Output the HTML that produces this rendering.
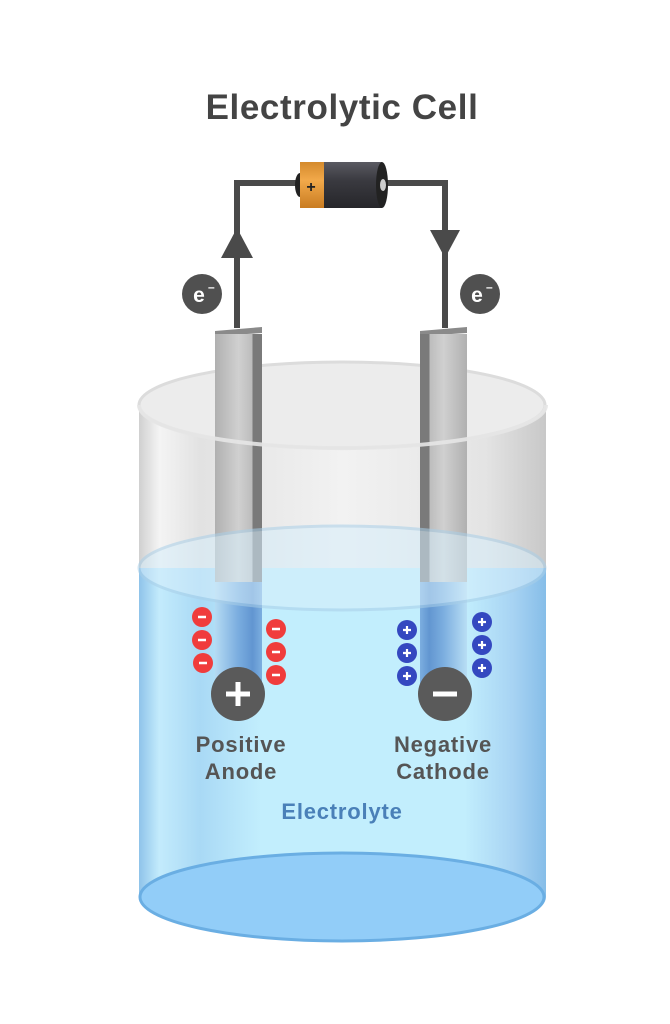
<!DOCTYPE html>
<html><head><meta charset="utf-8"><style>
html,body{margin:0;padding:0;background:#fff;}
svg{display:block;}
text{font-family:"Liberation Sans",sans-serif;font-weight:bold;}
</style></head><body>
<svg width="670" height="1024" viewBox="0 0 670 1024" xmlns="http://www.w3.org/2000/svg">
<defs>
<linearGradient id="glass" x1="0" x2="1" y1="0" y2="0">
<stop offset="0" stop-color="#d0d0d0"/><stop offset="0.05" stop-color="#f4f4f4"/><stop offset="0.15" stop-color="#e2e2e2"/><stop offset="0.5" stop-color="#f2f2f2"/><stop offset="0.85" stop-color="#e4e4e4"/><stop offset="1" stop-color="#c8c8c8"/>
</linearGradient>
<linearGradient id="water" x1="0" x2="1" y1="0" y2="0">
<stop offset="0" stop-color="#8fc3ea"/><stop offset="0.05" stop-color="#c3ebfc"/><stop offset="0.15" stop-color="#a9d9f5"/><stop offset="0.3" stop-color="#c2eefd"/><stop offset="0.8" stop-color="#c2eefd"/><stop offset="0.92" stop-color="#a7d3f3"/><stop offset="1" stop-color="#86bde8"/>
</linearGradient>
<linearGradient id="bat" x1="0" x2="0" y1="0" y2="1">
<stop offset="0" stop-color="#5a5a62"/><stop offset="0.4" stop-color="#3a3a40"/><stop offset="1" stop-color="#26262a"/>
</linearGradient>
<linearGradient id="batc" x1="0" x2="0" y1="0" y2="1">
<stop offset="0" stop-color="#d48a2c"/><stop offset="0.4" stop-color="#f2a94a"/><stop offset="1" stop-color="#c97c22"/>
</linearGradient>
<linearGradient id="elec" x1="0" x2="1" y1="0" y2="0">
<stop offset="0" stop-color="#b0b0b0"/><stop offset="0.5" stop-color="#d0d0d0"/><stop offset="0.8" stop-color="#bcbcbc"/><stop offset="0.8" stop-color="#7a7a7a"/><stop offset="1" stop-color="#7a7a7a"/>
</linearGradient>
<linearGradient id="elecw" x1="0" x2="1" y1="0" y2="0">
<stop offset="0" stop-color="#b6daf2"/><stop offset="0.5" stop-color="#6a9ed8"/><stop offset="0.8" stop-color="#4a80c6"/><stop offset="1" stop-color="#6a9ed8"/>
</linearGradient>
</defs>

<text x="342" y="119" font-size="35" fill="#444" text-anchor="middle" letter-spacing="0.6">Electrolytic Cell</text>

<path d="M139,405 L139,568 A203,44 0 0 0 546,568 L546,405 Z" fill="url(#glass)"/>
<ellipse cx="342" cy="405" rx="203" ry="43" fill="#ececec" stroke="#dcdcdc" stroke-width="3"/>
<path d="M139,568 L139,897 A203,45 0 0 0 546,897 L546,568 Z" fill="url(#water)"/>
<ellipse cx="342" cy="897" rx="202" ry="44" fill="#92cdf8" stroke="#6aaee3" stroke-width="3"/>

<path d="M237,328 L237,183 L300,183 M385,183 L445,183 L445,328" fill="none" stroke="#4a4a4a" stroke-width="6"/>
<polygon points="237,228 221,258 253,258" fill="#4a4a4a"/>
<polygon points="430,230 460,230 445,258" fill="#4a4a4a"/>

<ellipse cx="300" cy="185" rx="5" ry="12" fill="#222"/>
<rect x="300" y="162" width="24" height="46" fill="url(#batc)"/>
<rect x="324" y="162" width="58" height="46" fill="url(#bat)"/>
<ellipse cx="382" cy="185" rx="6" ry="23" fill="#222"/>
<ellipse cx="383" cy="185" rx="3" ry="6" fill="#ccc"/>
<text x="311" y="192" font-size="16" fill="#222" text-anchor="middle">+</text>

<circle cx="202" cy="294" r="20" fill="#505050"/>
<text x="199" y="302" font-size="21" fill="#fff" text-anchor="middle">e</text><text x="208" y="291" font-size="12" fill="#fff">–</text>
<circle cx="480" cy="294" r="20" fill="#505050"/>
<text x="477" y="302" font-size="21" fill="#fff" text-anchor="middle">e</text><text x="486" y="291" font-size="12" fill="#fff">–</text>

<g>
<polygon points="215,331 262,327 262,333 215,336" fill="#8a8a8a"/>
<rect x="215" y="334" width="47" height="248" fill="url(#elec)"/>
<rect x="215" y="582" width="47" height="110" fill="url(#elecw)" opacity="0.8"/>
<polygon points="420,331 467,327 467,333 420,336" fill="#8a8a8a"/>
<rect x="420" y="334" width="47" height="248" fill="url(#elec)" transform="translate(887,0) scale(-1,1)"/>
<rect x="420" y="582" width="47" height="110" fill="url(#elecw)" opacity="0.8" transform="translate(887,0) scale(-1,1)"/>
</g>
<path d="M139,405 A203,43 0 0 0 546,405" fill="none" stroke="#e6e6e6" stroke-width="4" opacity="0.9"/>
<ellipse cx="342" cy="568" rx="203" ry="42" fill="#d6eefb" opacity="0.55" stroke="#a9cfe8" stroke-width="3"/>

<g fill="#f03c3c">
<circle cx="202" cy="617" r="10"/><circle cx="202" cy="640" r="10"/><circle cx="203" cy="663" r="10"/>
<circle cx="276" cy="629" r="10"/><circle cx="276" cy="652" r="10"/><circle cx="276" cy="675" r="10"/>
</g>
<g stroke="#fff" stroke-width="2.5">
<path d="M198,617h8M198,640h8M199,663h8M272,629h8M272,652h8M272,675h8"/>
</g>
<g fill="#3448c0">
<circle cx="407" cy="630" r="10"/><circle cx="407" cy="653" r="10"/><circle cx="407" cy="676" r="10"/>
<circle cx="482" cy="622" r="10"/><circle cx="482" cy="645" r="10"/><circle cx="482" cy="668" r="10"/>
</g>
<g stroke="#fff" stroke-width="2.2">
<path d="M403,630h8M407,626v8M403,653h8M407,649v8M403,676h8M407,672v8M478,622h8M482,618v8M478,645h8M482,641v8M478,668h8M482,664v8"/>
</g>

<circle cx="238" cy="694" r="27" fill="#5a5a5a"/>
<path d="M226,694h24M238,682v24" stroke="#fff" stroke-width="5"/>
<circle cx="445" cy="694" r="27" fill="#5a5a5a"/>
<path d="M433,694h24" stroke="#fff" stroke-width="5"/>

<text x="241" y="752" font-size="22" fill="#555" text-anchor="middle" letter-spacing="0.8">Positive</text>
<text x="241" y="779" font-size="22" fill="#555" text-anchor="middle" letter-spacing="0.8">Anode</text>
<text x="443" y="752" font-size="22" fill="#555" text-anchor="middle" letter-spacing="0.8">Negative</text>
<text x="443" y="779" font-size="22" fill="#555" text-anchor="middle" letter-spacing="0.8">Cathode</text>
<text x="342" y="819" font-size="22" fill="#4a80b8" text-anchor="middle" letter-spacing="0.8">Electrolyte</text>
</svg>
</body></html>
